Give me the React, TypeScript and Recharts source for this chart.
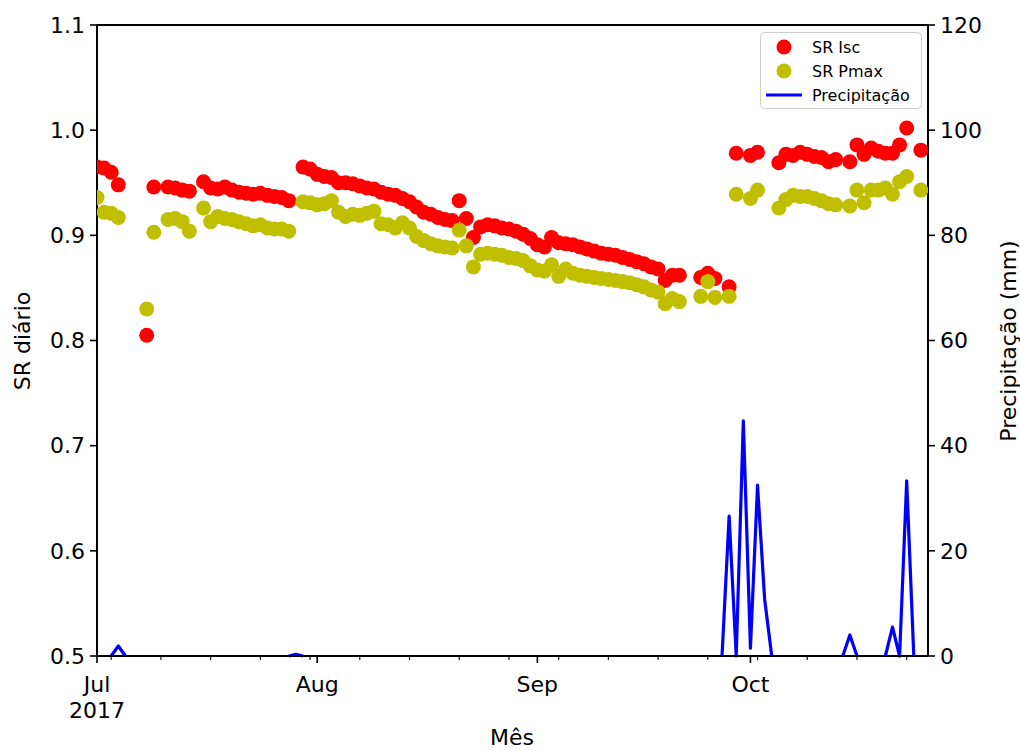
import React from 'react';
import { ComposedChart, Scatter, Line, XAxis, YAxis, ReferenceLine } from 'recharts';

// days counted from 1 Jul 2017
const srDays = [
  0, 1, 2, 3, 7, 8, 10, 11, 12, 13, 15, 16, 17, 18, 19, 20, 21, 22, 23, 24, 25, 26, 27,
  29, 30, 31, 32, 33, 34, 35, 36, 37, 38, 39, 40, 41, 42, 43, 44, 45, 46, 47, 48, 49, 50,
  51, 52, 53, 54, 55, 56, 57, 58, 59, 60, 61, 62, 63, 64, 65, 66, 67, 68, 69, 70, 71, 72,
  73, 74, 75, 76, 77, 78, 79, 80, 81, 82,
  85, 86, 87, 89, 90, 92, 93, 96, 97, 98, 99, 100, 101, 102, 103, 104,
  106, 107, 108, 109, 110, 111, 112, 113, 114, 116,
];

const srIsc = [
  0.965, 0.964, 0.96, 0.948, 0.805, 0.946, 0.946, 0.945, 0.943, 0.942, 0.951, 0.945, 0.944,
  0.946, 0.943, 0.941, 0.94, 0.939, 0.94, 0.938, 0.937, 0.936, 0.933,
  0.965, 0.963, 0.958, 0.956, 0.955, 0.95, 0.95, 0.949, 0.947, 0.945, 0.944, 0.941, 0.939,
  0.938, 0.935, 0.932, 0.927, 0.922, 0.92, 0.917, 0.915, 0.914, 0.933, 0.916, 0.898, 0.908,
  0.91, 0.909, 0.907, 0.906, 0.904, 0.901, 0.897, 0.891, 0.889, 0.898, 0.893, 0.892, 0.891,
  0.889, 0.887, 0.885, 0.883, 0.882, 0.881, 0.879, 0.877, 0.875, 0.873, 0.87, 0.868, 0.857,
  0.862, 0.862,
  0.86, 0.864, 0.859, 0.851, 0.978, 0.976, 0.979, 0.969, 0.977, 0.976, 0.979, 0.977, 0.975,
  0.974, 0.97, 0.972, 0.97, 0.986, 0.977, 0.983, 0.98, 0.978, 0.978, 0.986, 1.002, 0.981,
];

const srPmax = [
  0.936, 0.922, 0.921, 0.917, 0.83, 0.903, 0.915, 0.916, 0.913, 0.904, 0.926, 0.913, 0.918,
  0.916, 0.915, 0.913, 0.911, 0.909, 0.91, 0.907, 0.906, 0.906, 0.904,
  0.932, 0.931, 0.929, 0.93, 0.933, 0.922, 0.918, 0.92, 0.919, 0.921, 0.923, 0.911, 0.91,
  0.907, 0.912, 0.907, 0.899, 0.895, 0.892, 0.89, 0.889, 0.888, 0.905, 0.89, 0.87, 0.882,
  0.883, 0.882, 0.881, 0.879, 0.878, 0.876, 0.871, 0.867, 0.866, 0.872, 0.861, 0.868, 0.864,
  0.862, 0.861, 0.86, 0.859, 0.858, 0.857, 0.856, 0.855, 0.853, 0.851, 0.848, 0.846, 0.835,
  0.84, 0.837,
  0.842, 0.856, 0.841, 0.842, 0.939, 0.935, 0.943, 0.926, 0.934, 0.938, 0.937, 0.937, 0.935,
  0.933, 0.93, 0.929, 0.928, 0.943, 0.931, 0.943, 0.943, 0.945, 0.939, 0.951, 0.956, 0.943,
];

// daily precipitation (mm), day 0 .. 116
const rainMm = [
  0, 0, 0, 1.9, 0, 0, 0, 0, 0, 0,
  0, 0, 0, 0, 0, 0, 0, 0, 0, 0,
  0, 0, 0, 0, 0, 0, 0, 0, 0.3, 0,
  0, 0, 0, 0, 0, 0, 0, 0, 0, 0,
  0, 0, 0, 0, 0, 0, 0, 0, 0, 0,
  0, 0, 0, 0, 0, 0, 0, 0, 0, 0,
  0, 0, 0, 0, 0, 0, 0, 0, 0, 0,
  0, 0, 0, 0, 0, 0, 0, 0, 0, 0,
  0, 0, 0, 0, 0, 0, 0, 0, 0, 26.6,
  0, 44.7, 1.5, 32.5, 10.8, 0, 0, 0, 0, 0,
  0, 0, 0, 0, 0, 0, 4.0, 0, 0, 0,
  0, 0, 5.5, 0, 33.3, 0, 0,
];

const monthTicks = [0, 31, 62, 92];
const monthLabels = ['Jul', 'Aug', 'Sep', 'Oct'];
const weekTicks = [2, 9, 16, 23, 30, 37, 44, 51, 58, 65, 72, 79, 86, 93, 100, 107, 114];
const srTicks = [0.5, 0.6, 0.7, 0.8, 0.9, 1.0, 1.1];
const rainTicks = [0, 20, 40, 60, 80, 100, 120];

const FONT = '"DejaVu Sans", sans-serif';
const RED = '#ff0000';
const OLIVE = '#bfbf00';
const BLUE = '#0000ff';
const PLOT_BOTTOM = 656;

const iscData = srDays.map((d, i) => ({ day: d, isc: srIsc[i] }));
const pmaxData = srDays.map((d, i) => ({ day: d, pmax: srPmax[i] }));
// flat zero stretches sit under the bottom spine, so leave them out of the path
const rainData = rainMm.map((v, i) => {
  const prev = i > 0 ? rainMm[i - 1] : 0;
  const next = i < rainMm.length - 1 ? rainMm[i + 1] : 0;
  return { day: i, rain: v === 0 && prev === 0 && next === 0 ? null : v };
});

const dot = (color: string) => (p: any) => (
  <circle cx={p.cx} cy={p.cy} r={7.5} fill={color} stroke="none" />
);

const XTick = (props: any) => {
  const { x, payload } = props;
  const idx = monthTicks.indexOf(payload.value);
  const major = idx >= 0;
  return (
    <g>
      <line x1={x} x2={x} y1={PLOT_BOTTOM} y2={PLOT_BOTTOM + (major ? 7 : 4)} stroke="#000" strokeWidth={major ? 1.6 : 1.1} />
      {major && (
        <text x={x} y={692} textAnchor="middle" fontSize={22} fontFamily={FONT} fill="#000">
          {monthLabels[idx]}
        </text>
      )}
      {idx === 0 && (
        <text x={x} y={718} textAnchor="middle" fontSize={22} fontFamily={FONT} fill="#000">
          2017
        </text>
      )}
    </g>
  );
};

export default function App() {
  const tickStyle = { fontSize: 22, fill: '#000', fontFamily: FONT };
  return (
    <div style={{ position: 'absolute', left: 0, top: 0, width: 1020, height: 751, background: '#fff' }}>
      <ComposedChart width={1020} height={751} data={rainData} margin={{ top: 25, right: 0, bottom: 0, left: 0 }}>
        <XAxis
          dataKey="day"
          type="number"
          domain={[0, 117]}
          allowDataOverflow
          ticks={[...monthTicks, ...weekTicks].sort((a, b) => a - b)}
          interval={0}
          height={95}
          tick={<XTick />}
          tickLine={false}
          axisLine={{ stroke: '#000', strokeWidth: 2 }}
        />
        <YAxis
          yAxisId="sr"
          orientation="left"
          type="number"
          domain={[0.5, 1.1]}
          ticks={srTicks}
          interval={0}
          width={97}
          tick={tickStyle}
          tickFormatter={(v: number) => v.toFixed(1)}
          tickSize={7}
          tickMargin={5}
          tickLine={{ stroke: '#000', strokeWidth: 1.6 }}
          axisLine={{ stroke: '#000', strokeWidth: 2 }}
        />
        <YAxis
          yAxisId="rain"
          orientation="right"
          type="number"
          domain={[0, 120]}
          ticks={rainTicks}
          interval={0}
          width={92}
          tick={{ ...tickStyle, textAnchor: 'start' }}
          tickSize={7}
          tickMargin={5}
          tickLine={{ stroke: '#000', strokeWidth: 1.6 }}
          axisLine={{ stroke: '#000', strokeWidth: 2 }}
        />
        <ReferenceLine yAxisId="sr" y={1.1} stroke="#000" strokeWidth={2} />
        <Scatter yAxisId="sr" data={iscData} dataKey="isc" fill={RED} shape={dot(RED)} isAnimationActive={false} />
        <Scatter yAxisId="sr" data={pmaxData} dataKey="pmax" fill={OLIVE} shape={dot(OLIVE)} isAnimationActive={false} />
        <Line
          yAxisId="rain"
          dataKey="rain"
          stroke={BLUE}
          strokeWidth={3.2}
          strokeLinejoin="round"
          dot={false}
          activeDot={false}
          connectNulls={false}
          type="linear"
          isAnimationActive={false}
        />
      </ComposedChart>

      <svg width={1020} height={751} style={{ position: 'absolute', left: 0, top: 0, pointerEvents: 'none' }}>
        <text x={512} y={745} textAnchor="middle" fontSize={22} fontFamily={FONT} fill="#000">Mês</text>
        <text transform="translate(30,341) rotate(-90)" textAnchor="middle" fontSize={22} fontFamily={FONT} fill="#000">SR diário</text>
        <text transform="translate(1016,341) rotate(-90)" textAnchor="middle" fontSize={22} fontFamily={FONT} fill="#000">Precipitação (mm)</text>

        <rect x={760.5} y={32.5} width={161} height={76} rx={4} fill="#fff" fillOpacity={0.8} stroke="#cccccc" strokeWidth={1} />
        <circle cx={784} cy={47} r={7.5} fill={RED} />
        <text x={812} y={53} fontSize={16} fontFamily={FONT} fill="#000">SR Isc</text>
        <circle cx={784} cy={71} r={7.5} fill={OLIVE} />
        <text x={812} y={77} fontSize={16} fontFamily={FONT} fill="#000">SR Pmax</text>
        <line x1={766} x2={802} y1={95} y2={95} stroke={BLUE} strokeWidth={3} />
        <text x={812} y={101} fontSize={16} fontFamily={FONT} fill="#000">Precipitação</text>
      </svg>
    </div>
  );
}
